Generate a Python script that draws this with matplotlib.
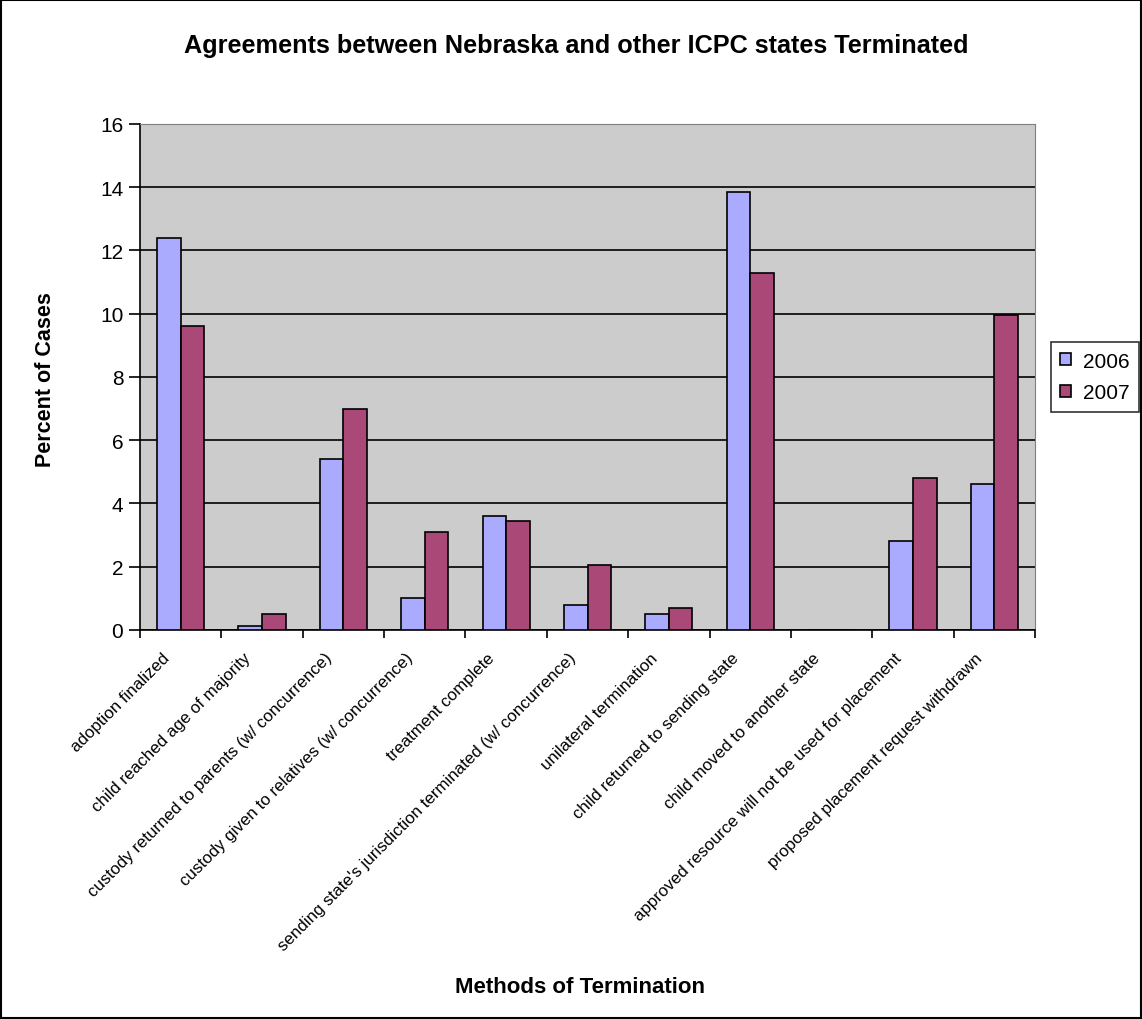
import numpy as np
import matplotlib.pyplot as plt
from matplotlib.patches import Rectangle

plt.rcParams['font.family'] = ['Liberation Sans', 'DejaVu Sans']

methods = [
    "adoption finalized",
    "child reached age of majority",
    "custody returned to parents (w/ concurrence)",
    "custody given to relatives (w/ concurrence)",
    "treatment complete",
    "sending state's jurisdiction terminated (w/ concurrence)",
    "unilateral termination",
    "child returned to sending state",
    "child moved to another state",
    "approved resource will not be used for placement",
    "proposed placement request withdrawn",
]
pct_2006 = [12.4, 0.13, 5.4, 1.0, 3.6, 0.8, 0.5, 13.85, 0.0, 2.8, 4.6]
pct_2007 = [9.6, 0.5, 7.0, 3.1, 3.45, 2.05, 0.7, 11.3, 0.0, 4.8, 9.97]

fig = plt.figure(figsize=(11.42, 10.20), dpi=100)
ax = fig.add_axes([0.1226, 0.3814, 0.7837, 0.4961])
ax.set_facecolor('#CCCCCC')

x = np.arange(len(methods))
w = 0.29
ax.bar(x - w / 2, pct_2006, w, color='#AAAAFF', edgecolor='black', linewidth=1.2, label='2006', zorder=3)
ax.bar(x + w / 2, pct_2007, w, color='#AA4977', edgecolor='black', linewidth=1.2, label='2007', zorder=3)

ax.set_xlim(-0.5, len(methods) - 0.5)
ax.set_ylim(0, 16)
ax.set_yticks(range(0, 17, 2))
ax.yaxis.grid(True, color='black', linewidth=1.2, zorder=1)
ax.set_axisbelow(True)

# category ticks sit between groups; the slanted names hang under each group
ax.set_xticks(np.arange(-0.5, len(methods)))
ax.set_xticklabels([])
ax.tick_params(axis='x', length=6, width=1.2, direction='out')
for i, name in enumerate(methods):
    ax.annotate(name, xy=(i, 0), xycoords=('data', 'axes fraction'),
                xytext=(-10, -18), textcoords='offset points',
                rotation=45, rotation_mode='anchor', ha='right', va='center',
                fontsize=12.2, annotation_clip=False)
ax.tick_params(axis='y', length=8, width=1.2, direction='out', labelsize=15, pad=4)

for side in ['top', 'right']:
    ax.spines[side].set_color('#808080')
ax.spines['left'].set_linewidth(1.2)
ax.spines['bottom'].set_linewidth(1.2)

fig.text(0.040, 0.628, 'Percent of Cases', ha='center', va='center', rotation=90,
         fontsize=15.5, fontweight='bold')
fig.text(0.508, 0.032, 'Methods of Termination', ha='center', va='center', fontsize=16, fontweight='bold')
fig.text(0.505, 0.955, 'Agreements between Nebraska and other ICPC states Terminated',
         ha='center', va='center', fontsize=18.2, fontweight='bold')

leg = ax.legend(loc='center left', bbox_to_anchor=(1.018, 0.5), fontsize=15, frameon=True,
                fancybox=False, edgecolor='black', handlelength=0.5, handleheight=0.5,
                handletextpad=0.6, borderpad=0.45, labelspacing=0.6, borderaxespad=0)
leg.get_frame().set_linewidth(1.2)

fig.patches.append(Rectangle((0.001, 0.001), 0.998, 0.998, transform=fig.transFigure,
                             fill=False, edgecolor='black', linewidth=1.5))

fig.savefig('out.png', dpi=100)
